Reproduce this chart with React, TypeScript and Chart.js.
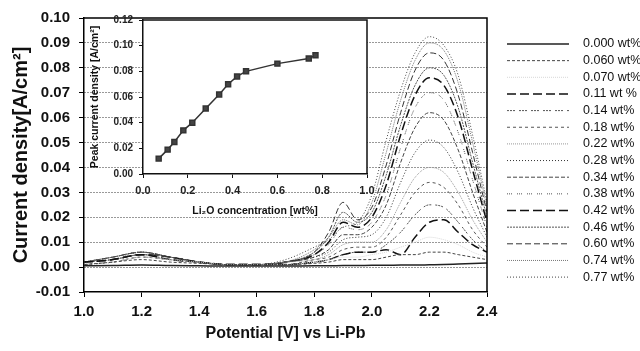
import { useEffect, useRef } from "react";
import { Chart, registerables } from "chart.js";

Chart.register(...registerables);

// ---------- DATA ----------
const potentialV = [1.0, 1.1, 1.2, 1.3, 1.4, 1.5, 1.6, 1.7, 1.8, 1.85, 1.9, 1.95, 2.0, 2.05, 2.1, 2.15, 2.2, 2.25, 2.3, 2.35, 2.4];

const seriesLabels = ["0.000 wt%", "0.060 wt%", "0.070 wt%", "0.11 wt %", "0.14 wt%", "0.18 wt%", "0.22 wt%", "0.28 wt%", "0.34 wt%", "0.38 wt%", "0.42 wt%", "0.46 wt%", "0.60 wt%", "0.74 wt%", "0.77 wt%"];

const cd000 = [0.0005, 0.0006, 0.0008, 0.0006, 0.0005, 0.0004, 0.0004, 0.0004, 0.0005, 0.0005, 0.0006, 0.0006, 0.0007, 0.0007, 0.0008, 0.0008, 0.0009, 0.001, 0.0012, 0.0014, 0.0016];
const cd060 = [0.001, 0.002, 0.003, 0.002, 0.0015, 0.001, 0.001, 0.001, 0.0015, 0.002, 0.003, 0.003, 0.003, 0.004, 0.005, 0.005, 0.006, 0.006, 0.005, 0.004, 0.003];
const cd070 = [0.001, 0.002, 0.004, 0.003, 0.002, 0.001, 0.001, 0.001, 0.002, 0.003, 0.004, 0.004, 0.005, 0.006, 0.008, 0.010, 0.012, 0.011, 0.009, 0.006, 0.004];
const cd011 = [0.002, 0.003, 0.005, 0.003, 0.002, 0.001, 0.001, 0.001, 0.002, 0.003, 0.005, 0.006, 0.006, 0.007, 0.005, 0.012, 0.018, 0.019, 0.014, 0.009, 0.006];
const cd014 = [0.001, 0.002, 0.004, 0.003, 0.002, 0.001, 0.001, 0.001, 0.002, 0.003, 0.005, 0.006, 0.006, 0.009, 0.014, 0.021, 0.025, 0.024, 0.018, 0.011, 0.006];
const cd018 = [0.001, 0.002, 0.004, 0.003, 0.002, 0.001, 0.001, 0.001, 0.003, 0.004, 0.007, 0.008, 0.008, 0.012, 0.021, 0.030, 0.034, 0.032, 0.025, 0.015, 0.008];
const cd022 = [0.002, 0.003, 0.005, 0.003, 0.002, 0.001, 0.001, 0.002, 0.003, 0.005, 0.009, 0.010, 0.010, 0.015, 0.026, 0.036, 0.040, 0.038, 0.030, 0.019, 0.010];
const cd028 = [0.002, 0.003, 0.005, 0.003, 0.002, 0.001, 0.001, 0.002, 0.004, 0.006, 0.011, 0.012, 0.013, 0.020, 0.034, 0.046, 0.051, 0.048, 0.038, 0.024, 0.012];
const cd034 = [0.002, 0.003, 0.005, 0.004, 0.002, 0.001, 0.001, 0.002, 0.004, 0.007, 0.013, 0.013, 0.016, 0.025, 0.042, 0.056, 0.062, 0.059, 0.047, 0.030, 0.014];
const cd038 = [0.002, 0.003, 0.006, 0.004, 0.002, 0.001, 0.001, 0.002, 0.005, 0.009, 0.016, 0.015, 0.018, 0.029, 0.048, 0.064, 0.070, 0.067, 0.054, 0.035, 0.016];
const cd042 = [0.002, 0.003, 0.005, 0.004, 0.002, 0.001, 0.001, 0.002, 0.005, 0.010, 0.018, 0.016, 0.020, 0.033, 0.053, 0.069, 0.076, 0.073, 0.060, 0.039, 0.018];
const cd046 = [0.002, 0.004, 0.006, 0.004, 0.002, 0.001, 0.001, 0.002, 0.006, 0.012, 0.022, 0.018, 0.022, 0.037, 0.057, 0.073, 0.080, 0.077, 0.064, 0.042, 0.020];
const cd060b = [0.002, 0.004, 0.006, 0.004, 0.002, 0.001, 0.001, 0.002, 0.006, 0.014, 0.026, 0.019, 0.024, 0.041, 0.062, 0.079, 0.086, 0.083, 0.069, 0.046, 0.022];
const cd074 = [0.002, 0.004, 0.006, 0.004, 0.002, 0.001, 0.001, 0.002, 0.007, 0.012, 0.019, 0.017, 0.026, 0.046, 0.067, 0.083, 0.090, 0.087, 0.074, 0.050, 0.024];
const cd077 = [0.002, 0.004, 0.006, 0.004, 0.002, 0.001, 0.001, 0.003, 0.008, 0.011, 0.016, 0.018, 0.029, 0.051, 0.071, 0.086, 0.0925, 0.089, 0.077, 0.053, 0.026];

const currentSeries = [cd000, cd060, cd070, cd011, cd014, cd018, cd022, cd028, cd034, cd038, cd042, cd046, cd060b, cd074, cd077];

const insetConc = [0.07, 0.11, 0.14, 0.18, 0.22, 0.28, 0.34, 0.38, 0.42, 0.46, 0.60, 0.74, 0.77];
const insetPeak = [0.012, 0.019, 0.025, 0.034, 0.040, 0.051, 0.062, 0.070, 0.076, 0.080, 0.086, 0.090, 0.0925];

// ---------- STYLES ----------
const lineStyles = [
  { color: "#222", dash: [], width: 1.5 },
  { color: "#444", dash: [3, 2], width: 1 },
  { color: "#d8d8d8", dash: [1, 1], width: 1 },
  { color: "#111", dash: [9, 4], width: 1.5 },
  { color: "#555", dash: [2, 1, 2, 1, 2, 4], width: 1 },
  { color: "#555", dash: [3, 3], width: 1 },
  { color: "#999", dash: [1, 1], width: 1 },
  { color: "#333", dash: [1, 2], width: 1 },
  { color: "#444", dash: [4, 2], width: 1 },
  { color: "#555", dash: [1, 1, 1, 1, 1, 5], width: 1 },
  { color: "#111", dash: [9, 4], width: 1.5 },
  { color: "#555", dash: [2, 1], width: 1 },
  { color: "#333", dash: [6, 3], width: 1 },
  { color: "#777", dash: [1, 1], width: 1 },
  { color: "#444", dash: [1, 2], width: 1 },
];

const FONT = "'Liberation Sans', Arial, sans-serif";

const framePlugin = {
  id: "frame",
  afterDraw(chart: any) {
    const { ctx, chartArea: a } = chart;
    ctx.save();
    ctx.strokeStyle = "#000";
    ctx.lineWidth = 1.5;
    ctx.setLineDash([]);
    ctx.beginPath();
    ctx.moveTo(a.left, a.top);
    ctx.lineTo(a.right, a.top);
    ctx.lineTo(a.right, a.bottom);
    ctx.stroke();
    ctx.restore();
  },
};

const sideLegendPlugin = {
  id: "sideLegend",
  afterDraw(chart: any) {
    const ctx = chart.ctx;
    chart.data.datasets.forEach((ds: any, i: number) => {
      const y = 44 + i * 16.65;
      ctx.save();
      ctx.strokeStyle = ds.borderColor;
      ctx.lineWidth = ds.borderWidth;
      ctx.setLineDash(ds.borderDash || []);
      ctx.beginPath();
      ctx.moveTo(507, y);
      ctx.lineTo(569, y);
      ctx.stroke();
      ctx.setLineDash([]);
      ctx.fillStyle = "#111";
      ctx.font = `12.5px ${FONT}`;
      ctx.textBaseline = "middle";
      ctx.fillText(ds.label, 583, y);
      ctx.restore();
    });
  },
};

const insetBgPlugin = {
  id: "insetBg",
  beforeDraw(chart: any) {
    const { ctx, chartArea: a } = chart;
    ctx.save();
    ctx.fillStyle = "#fff";
    ctx.fillRect(a.left, a.top, a.right - a.left, a.bottom - a.top);
    ctx.restore();
  },
  afterDraw(chart: any) {
    const { ctx, chartArea: a } = chart;
    ctx.save();
    ctx.strokeStyle = "#111";
    ctx.lineWidth = 1.5;
    ctx.beginPath();
    ctx.moveTo(a.left, a.top);
    ctx.lineTo(a.right, a.top);
    ctx.lineTo(a.right, a.bottom);
    ctx.stroke();
    ctx.restore();
  },
};

export default function App() {
  const mainRef = useRef<HTMLCanvasElement>(null);
  const insetRef = useRef<HTMLCanvasElement>(null);

  useEffect(() => {
    document.body.style.margin = "0";
    const datasets = currentSeries.map((vals, i) => ({
      label: seriesLabels[i],
      data: potentialV.map((x, j) => ({ x, y: vals[j] })),
      borderColor: lineStyles[i].color,
      borderWidth: lineStyles[i].width,
      borderDash: lineStyles[i].dash,
      pointRadius: 0,
      fill: false,
      tension: 0.4,
      cubicInterpolationMode: "monotone" as const,
    }));

    const main = new Chart(mainRef.current!, {
      type: "line",
      data: { datasets },
      plugins: [framePlugin, sideLegendPlugin],
      options: {
        animation: false,
        responsive: false,
        layout: { padding: { left: 0, right: 153, top: 15, bottom: 0 } },
        plugins: { legend: { display: false }, tooltip: { enabled: false } },
        scales: {
          x: {
            type: "linear",
            min: 1.0,
            max: 2.4,
            afterFit: (s: any) => { s.height = 59; },
            ticks: {
              stepSize: 0.2,
              color: "#111",
              padding: 6,
              font: { family: FONT, size: 15, weight: "bold" },
              callback: (v: any) => Number(v).toFixed(1),
            },
            grid: { display: true, drawOnChartArea: false, drawTicks: true, tickLength: 5, tickColor: "#000", color: "#000" },
            border: { display: true, color: "#000", width: 1.5 },
            title: {
              display: true,
              text: "Potential [V] vs Li-Pb",
              color: "#111",
              font: { family: FONT, size: 16, weight: "bold" },
              padding: { top: 0, bottom: 8 },
            },
          },
          y: {
            min: -0.01,
            max: 0.1,
            afterFit: (s: any) => { s.width = 84; },
            ticks: {
              stepSize: 0.01,
              color: "#111",
              padding: 9,
              font: { family: FONT, size: 15, weight: "bold" },
              callback: (v: any) => Number(v).toFixed(2),
            },
            grid: {
              drawOnChartArea: true,
              drawTicks: true,
              tickLength: 5,
              tickColor: "#000",
              lineWidth: 1,
              color: (c: any) => {
                const v = c.tick ? c.tick.value : 0;
                return v > 0.095 || v < -0.005 ? "rgba(0,0,0,0)" : "#333";
              },
            },
            border: { display: true, color: "#000", width: 1.5, dash: [1, 2] },
            title: {
              display: true,
              text: "Current density[A/cm²]",
              color: "#111",
              font: { family: FONT, size: 20, weight: "bold" },
              padding: { top: 9, bottom: 0 },
            },
          },
        },
      },
    } as any);

    const inset = new Chart(insetRef.current!, {
      type: "line",
      data: {
        datasets: [
          {
            label: "Peak",
            data: insetConc.map((x, i) => ({ x, y: insetPeak[i] })),
            borderColor: "#333",
            borderWidth: 1.5,
            pointStyle: "rect",
            pointRadius: 3.5,
            pointBackgroundColor: "#444",
            pointBorderColor: "#333",
            tension: 0,
          },
        ],
      },
      plugins: [insetBgPlugin],
      options: {
        animation: false,
        responsive: false,
        layout: { padding: { left: 85, right: 273, top: 20, bottom: 132 } },
        plugins: { legend: { display: false }, tooltip: { enabled: false } },
        scales: {
          x: {
            type: "linear",
            min: 0,
            max: 1.0,
            afterFit: (s: any) => { s.height = 45; },
            ticks: {
              stepSize: 0.2,
              color: "#222",
              padding: 6,
              font: { family: FONT, size: 11, weight: "bold" },
              callback: (v: any) => Number(v).toFixed(1),
            },
            grid: { display: true, drawOnChartArea: false, drawTicks: true, tickLength: 4, tickColor: "#111" },
            border: { display: true, color: "#111", width: 1.5 },
            title: {
              display: true,
              text: "Li₂O concentration [wt%]",
              color: "#111",
              font: { family: FONT, size: 10.5, weight: "bold" },
              padding: { top: 0, bottom: 2 },
            },
          },
          y: {
            min: 0,
            max: 0.12,
            afterFit: (s: any) => { s.width = 58; },
            ticks: {
              stepSize: 0.02,
              color: "#222",
              padding: 6,
              font: { family: FONT, size: 10, weight: "bold" },
              callback: (v: any) => Number(v).toFixed(2),
            },
            grid: { display: true, drawOnChartArea: false, drawTicks: true, tickLength: 4, tickColor: "#111" },
            border: { display: true, color: "#111", width: 1.5 },
            title: {
              display: true,
              text: "Peak current density [A/cm²]",
              color: "#111",
              font: { family: FONT, size: 10.5, weight: "bold" },
              padding: { top: 4, bottom: 0 },
            },
          },
        },
      },
    } as any);

    return () => {
      main.destroy();
      inset.destroy();
    };
  }, []);

  return (
    <div style={{ position: "relative", width: 640, height: 351, background: "#fff" }}>
      <canvas ref={mainRef} width={640} height={351} style={{ position: "absolute", left: 0, top: 0, width: 640, height: 351 }} />
      <canvas ref={insetRef} width={640} height={351} style={{ position: "absolute", left: 0, top: 0, width: 640, height: 351 }} />
    </div>
  );
}
